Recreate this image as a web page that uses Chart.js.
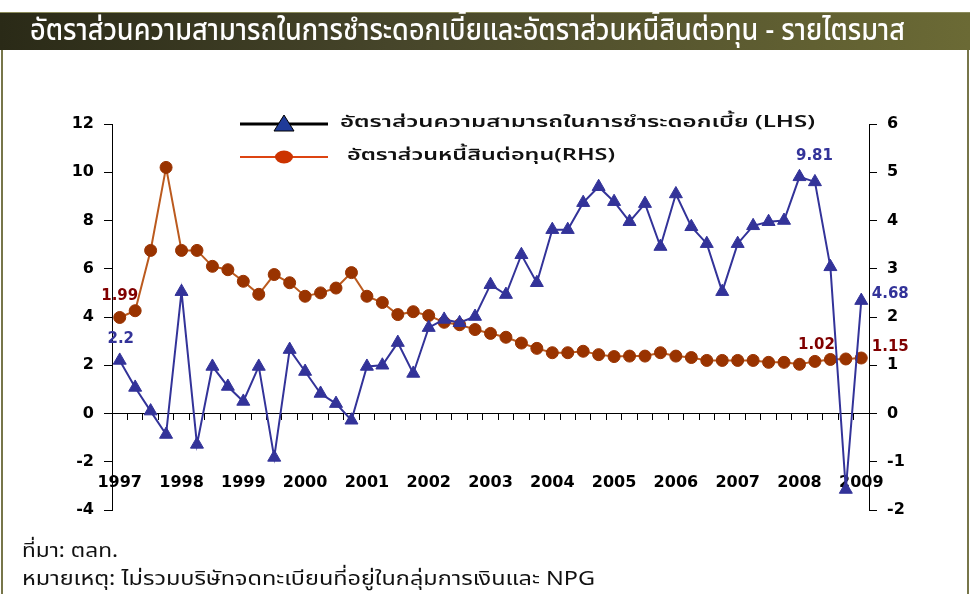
<!DOCTYPE html>
<html>
<head>
<meta charset="utf-8">
<script src="https://cdn.jsdelivr.net/npm/chart.js@4.4.1/dist/chart.umd.min.js"></script>
<style>
  html, body { margin: 0; padding: 0; background: #fff; overflow: hidden; }
  body { width: 973px; height: 594px; position: relative; }
  #chart { position: absolute; left: 0; top: 0; }
  #title {
    position: absolute; left: 30px; top: 13px; color: #fff; font-size: 31px;
    font-family: 'Noto Sans Thai', Tahoma, sans-serif; font-weight: 500;
    white-space: nowrap; transform-origin: 0 50%; line-height: 36px;
  }
  .note {
    position: absolute; left: 22px; font-size: 20px; color: #111;
    font-family: 'Noto Sans Thai', Tahoma, sans-serif; white-space: nowrap;
    transform-origin: 0 50%; line-height: 24px;
  }
</style>
</head>
<body>
<canvas id="chart" width="973" height="594"></canvas>
<div id="title" data-w="875">อัตราส่วนความสามารถในการชำระดอกเบี้ยและอัตราส่วนหนี้สินต่อทุน - รายไตรมาส</div>
<div class="note" id="src" style="top:539px" data-w="96">ที่มา: ตลท.</div>
<div class="note" id="rem" style="top:567px" data-w="573">หมายเหตุ: ไม่รวมบริษัทจดทะเบียนที่อยู่ในกลุ่มการเงินและ NPG</div>
<script>
// quarterly, 1997Q1 .. 2009Q1
const years = ['1997', '1998', '1999', '2000', '2001', '2002', '2003', '2004', '2005', '2006', '2007', '2008', '2009'];
const quarters = [];
years.forEach((y, i) => {
    const n = (i === years.length - 1) ? 1 : 4;
    for (let q = 1; q <= n; q++) quarters.push(y + 'Q' + q);
});

// interest coverage ratio (LHS)
const coverage = [
    2.2, 1.08, 0.1, -0.87, 5.05, -1.28, 1.95, 1.12, 0.5, 1.95, -1.82, 2.65,
    1.74, 0.83, 0.41, -0.28, 1.95, 2.0, 2.94, 1.66, 3.56, 3.9, 3.76, 4.02,
    5.34, 4.93, 6.58, 5.42, 7.62, 7.62, 8.74, 9.4, 8.78, 7.95, 8.7, 6.92,
    9.1, 7.74, 7.04, 5.05, 7.04, 7.78, 7.95, 8.0, 9.81, 9.6, 6.08, -3.15,
    4.68
];
// debt to equity (RHS)
const debtEquity = [
    1.99, 2.13, 3.38, 5.1, 3.38, 3.38, 3.05, 2.98, 2.74, 2.47, 2.88, 2.71,
    2.43, 2.5, 2.6, 2.92, 2.43, 2.3, 2.05, 2.11, 2.03, 1.89, 1.84, 1.74,
    1.66, 1.58, 1.46, 1.35, 1.26, 1.26, 1.29, 1.22, 1.18, 1.19, 1.19, 1.26,
    1.19, 1.16, 1.10, 1.10, 1.10, 1.10, 1.06, 1.06, 1.02, 1.08, 1.12, 1.13,
    1.15
];

const leftTicks = [-4, 12, 2];
const rightTicks = [-2, 6, 1];

const legendLabels = [
    'อัตราส่วนความสามารถในการชำระดอกเบี้ย (LHS)',
    'อัตราส่วนหนี้สินต่อทุน(RHS)'
];

// value labels: [dataset, index, text, dx, dy]
const callouts = [
    [1, 0, '1.99', 0, -21],
    [0, 0, '2.2', 1, -21],
    [0, 44, '9.81', 15, -21],
    [0, 48, '4.68', 29, -6],
    [1, 48, '1.15', 29, -11],
    [1, 44, '1.02', 17, -19]
];

const BLUE = '#333399';
const BROWN = '#993300';
const DARKRED = '#800000';
const THAI = "'Noto Sans Thai', Tahoma, sans-serif";

// squeeze text spans to the width they have in the picture
document.querySelectorAll('[data-w]').forEach(el => {
    const w = el.getBoundingClientRect().width;
    el.style.transform = 'scaleX(' + (+el.dataset.w / w) + ')';
});

function fitText(ctx, text, x, y, width) {
    const w = ctx.measureText(text).width;
    ctx.save();
    ctx.translate(x, y);
    ctx.scale(width / w, 1);
    ctx.fillText(text, 0, 0);
    ctx.restore();
}

// title band and page frame
const frame = {
    id: 'frame',
    beforeDraw(chart) {
        const ctx = chart.ctx;
        ctx.save();
        const g = ctx.createLinearGradient(0, 0, 970, 0);
        g.addColorStop(0, '#2a2a17');
        g.addColorStop(0.4, '#46452a');
        g.addColorStop(1, '#6b6a35');
        ctx.fillStyle = g;
        ctx.fillRect(0, 12, 970, 38);
        ctx.fillStyle = '#8a8a5a';
        ctx.fillRect(0, 12, 970, 1);
        ctx.fillStyle = '#77764a';
        ctx.fillRect(1, 50, 2, 544);
        ctx.fillRect(967, 50, 2, 544);
        ctx.restore();
    }
};

const extras = {
    id: 'extras',
    afterDatasetsDraw(chart) {
        const ctx = chart.ctx;
        // value labels
        ctx.save();
        ctx.font = 'bold 15px "DejaVu Sans"';
        ctx.textAlign = 'center';
        ctx.textBaseline = 'middle';
        callouts.forEach(([ds, i, txt, dx, dy]) => {
            const pt = chart.getDatasetMeta(ds).data[i];
            ctx.fillStyle = ds === 0 ? BLUE : DARKRED;
            ctx.fillText(txt, pt.x + dx, pt.y + dy);
        });
        ctx.restore();

        // legend
        ctx.save();
        ctx.strokeStyle = '#000';
        ctx.lineWidth = 3;
        ctx.beginPath(); ctx.moveTo(240, 124); ctx.lineTo(328, 124); ctx.stroke();
        ctx.fillStyle = '#1f3b99';
        ctx.lineWidth = 1;
        ctx.beginPath();
        ctx.moveTo(284, 115); ctx.lineTo(294, 131); ctx.lineTo(274, 131); ctx.closePath();
        ctx.fill(); ctx.stroke();

        ctx.strokeStyle = '#dd4411';
        ctx.lineWidth = 2;
        ctx.beginPath(); ctx.moveTo(240, 157); ctx.lineTo(328, 157); ctx.stroke();
        ctx.fillStyle = '#cc3300';
        ctx.beginPath(); ctx.ellipse(284, 157, 9, 6.5, 0, 0, Math.PI * 2); ctx.fill();

        ctx.fillStyle = '#111';
        ctx.font = '600 16px ' + THAI;
        ctx.textBaseline = 'middle';
        fitText(ctx, legendLabels[0], 340, 124, 475);
        fitText(ctx, legendLabels[1], 347, 157, 268);
        ctx.restore();
    }
};

const tickFont = { family: 'DejaVu Sans', size: 16, weight: 'bold' };

new Chart(document.getElementById('chart'), {
    type: 'line',
    data: {
        labels: quarters,
        datasets: [
            {
                label: legendLabels[0],
                data: coverage,
                yAxisID: 'y',
                borderColor: BLUE,
                borderWidth: 2,
                pointStyle: 'triangle',
                pointRadius: 7.5,
                pointBackgroundColor: BLUE,
                pointBorderColor: BLUE,
                pointBorderWidth: 1,
                tension: 0
            },
            {
                label: legendLabels[1],
                data: debtEquity,
                yAxisID: 'y1',
                borderColor: '#bb5a1e',
                borderWidth: 2,
                pointStyle: 'circle',
                pointRadius: 6,
                pointBackgroundColor: BROWN,
                pointBorderColor: BROWN,
                pointBorderWidth: 1,
                tension: 0
            }
        ]
    },
    options: {
        responsive: false,
        animation: false,
        layout: { padding: { left: 52, right: 44, top: 124, bottom: 84 } },
        plugins: { legend: { display: false }, tooltip: { enabled: false } },
        scales: {
            x: {
                type: 'category',
                position: { y: 0 },
                offset: true,
                grid: { drawOnChartArea: false, offset: true, tickLength: 6, color: '#000' },
                border: { color: '#000', width: 1 },
                ticks: {
                    autoSkip: false,
                    maxRotation: 0,
                    padding: 54,
                    color: '#000',
                    font: tickFont,
                    callback: (v, i) => (i % 4 === 0 ? quarters[i].slice(0, 4) : '')
                }
            },
            y: {
                position: 'left',
                min: leftTicks[0],
                max: leftTicks[1],
                grid: { drawOnChartArea: false, tickLength: 8, color: '#000' },
                border: { color: '#000', width: 1 },
                ticks: { stepSize: leftTicks[2], padding: 10, color: '#000', font: tickFont },
                afterFit: s => { s.width = 60; }
            },
            y1: {
                position: 'right',
                min: rightTicks[0],
                max: rightTicks[1],
                grid: { drawOnChartArea: false, tickLength: 8, color: '#000' },
                border: { color: '#000', width: 1 },
                ticks: { stepSize: rightTicks[2], padding: 10, color: '#000', font: tickFont },
                afterFit: s => { s.width = 60; }
            }
        }
    },
    plugins: [frame, extras]
});
</script>
</body>
</html>
